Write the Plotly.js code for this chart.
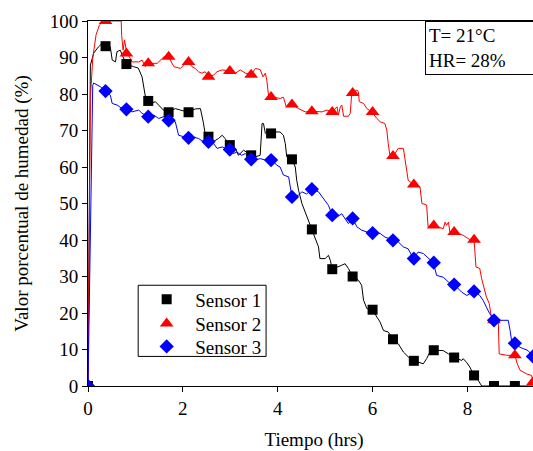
<!DOCTYPE html>
<html>
<head>
<meta charset="utf-8">
<script src="https://cdn.plot.ly/plotly-3.0.1.min.js"></script>
<style>
html, body { margin: 0; padding: 0; overflow: hidden; background: #fff; }
#chart { width: 540px; height: 451px; }
</style>
</head>
<body>
<div id="chart"></div>
<script>
// Sensor names
const sensorNames = ["Sensor 1", "Sensor 2", "Sensor 3"];

// Continuous readings (hours, %)
const s1LineX = [0, 0.05, 0.09, 0.12, 0.22, 0.30, 0.37, 0.47, 0.51, 0.58, 0.61, 0.68, 0.72, 0.81, 0.96, 1.06, 1.14, 1.21, 1.27, 1.35, 1.42, 1.48, 1.59, 1.70, 1.84, 1.95, 2.12, 2.26, 2.37, 2.43, 2.47, 2.54, 2.65, 2.75, 2.83, 2.89, 2.96, 3.11, 3.17, 3.28, 3.39, 3.44, 3.53, 3.63, 3.67, 3.70, 3.74, 3.77, 3.86, 3.95, 4.05, 4.12, 4.16, 4.19, 4.30, 4.37, 4.40, 4.44, 4.51, 4.58, 4.65, 4.72, 4.79, 4.86, 4.89, 5.00, 5.07, 5.11, 5.15, 5.28, 5.35, 5.42, 5.49, 5.58, 5.67, 5.70, 5.77, 5.81, 5.88, 6.00, 6.09, 6.16, 6.23, 6.33, 6.43, 6.54, 6.65, 6.79, 6.87, 7.07, 7.14, 7.21, 7.29, 7.49, 7.60, 7.72, 7.88, 7.91, 7.98, 8.05, 8.14, 8.23, 8.30, 9.53];
const s1LineY = [0, 87.9, 89.8, 91.2, 92.9, 93.9, 93.0, 92.9, 89.3, 88.8, 91.6, 92.0, 90.7, 88.2, 87.5, 87.1, 84.7, 79.3, 78.1, 77.5, 77.9, 77.1, 75.6, 75.0, 76.0, 75.6, 75.0, 75.9, 76.0, 72.3, 69.2, 68.3, 67.0, 67.8, 68.7, 67.8, 66.4, 65.1, 63.2, 64.6, 63.7, 63.2, 62.8, 63.2, 71.9, 71.9, 69.2, 69.6, 69.2, 69.6, 69.6, 68.7, 66.4, 62.8, 62.1, 60.0, 56.4, 53.6, 50.0, 47.7, 45.4, 42.9, 40.8, 38.1, 34.9, 34.9, 35.8, 34.4, 32.0, 32.6, 33.1, 33.5, 32.2, 30.0, 29.4, 29.0, 27.6, 23.5, 21.2, 20.9, 18.9, 17.5, 15.2, 14.8, 12.8, 11.6, 9.3, 7.5, 6.9, 6.1, 7.5, 9.3, 9.8, 9.7, 8.8, 7.8, 7.0, 7.5, 6.5, 5.2, 2.9, 1.5, 0, 0];

const s2LineX = [0, 0.05, 0.10, 0.17, 0.24, 0.31, 0.35, 0.70, 0.71, 0.72, 0.74, 0.77, 0.79, 0.82, 0.89, 0.93, 1.07, 1.14, 1.21, 1.27, 1.46, 1.53, 1.60, 1.70, 1.81, 1.95, 2.05, 2.12, 2.19, 2.26, 2.33, 2.40, 2.47, 2.54, 2.65, 2.72, 2.83, 2.99, 3.11, 3.21, 3.32, 3.44, 3.53, 3.63, 3.69, 3.74, 3.77, 3.81, 3.86, 4.05, 4.12, 4.18, 4.30, 4.44, 4.58, 4.72, 4.93, 5.04, 5.15, 5.25, 5.28, 5.32, 5.35, 5.39, 5.49, 5.53, 5.56, 5.67, 5.70, 5.72, 5.81, 5.88, 5.98, 6.09, 6.16, 6.26, 6.30, 6.33, 6.37, 6.44, 6.54, 6.65, 6.68, 6.75, 6.86, 7.00, 7.04, 7.14, 7.17, 7.28, 7.49, 7.53, 7.56, 7.60, 7.63, 7.72, 7.91, 8.05, 8.14, 8.18, 8.26, 8.30, 8.40, 8.46, 8.51, 8.58, 8.65, 8.67, 8.83, 9.00, 9.05, 9.11, 9.25, 9.35, 9.40, 9.53];
const s2LineY = [0, 78.8, 89.8, 96.2, 98.9, 99.8, 100, 100, 96.0, 93.9, 92.0, 94.8, 93.0, 91.1, 89.8, 88.8, 88.8, 89.3, 87.5, 88.4, 88.4, 89.3, 90.2, 90.2, 87.5, 87.0, 88.4, 88.8, 87.5, 87.0, 86.1, 85.7, 86.1, 84.7, 85.2, 86.1, 86.6, 86.3, 85.7, 86.6, 85.7, 85.3, 87.0, 86.7, 84.7, 85.7, 83.8, 79.2, 79.2, 78.8, 79.1, 76.5, 77.1, 76.0, 75.1, 75.3, 75.1, 75.6, 75.1, 76.5, 74.2, 76.5, 77.0, 73.9, 73.9, 74.7, 80.2, 81.1, 80.6, 77.9, 77.4, 76.0, 75.1, 73.3, 72.4, 71.9, 70.1, 66.4, 62.8, 63.0, 65.1, 65.1, 62.8, 56.4, 55.2, 54.5, 50.0, 49.6, 43.6, 44.0, 43.1, 44.9, 44.0, 44.9, 42.2, 42.2, 41.3, 40.1, 40.1, 32.6, 32.2, 29.4, 24.4, 22.6, 18.4, 18.0, 17.7, 8.8, 8.4, 8.4, 6.1, 4.3, 3.3, 2.9, 1.0, 0.5];

const s3LineX = [0, 0.10, 0.12, 0.26, 0.37, 0.47, 0.51, 0.61, 0.72, 0.82, 0.93, 1.07, 1.14, 1.27, 1.39, 1.49, 1.60, 1.70, 1.84, 1.91, 2.02, 2.12, 2.23, 2.33, 2.44, 2.56, 2.65, 2.72, 2.83, 2.96, 3.07, 3.14, 3.24, 3.32, 3.42, 3.53, 3.63, 3.74, 3.88, 3.98, 4.05, 4.12, 4.23, 4.30, 4.44, 4.51, 4.61, 4.72, 4.86, 4.96, 5.07, 5.15, 5.25, 5.35, 5.49, 5.58, 5.67, 5.77, 5.88, 6.00, 6.16, 6.26, 6.44, 6.54, 6.65, 6.75, 6.86, 6.96, 7.07, 7.18, 7.28, 7.35, 7.49, 7.60, 7.72, 7.88, 7.99, 8.05, 8.14, 8.26, 8.33, 8.40, 8.47, 8.58, 8.72, 8.79, 8.86, 8.90, 8.93, 9.00, 9.11, 9.28, 9.38, 9.53];
const s3LineY = [0, 82.4, 83.0, 82.0, 80.8, 79.7, 77.4, 77.0, 76.0, 75.8, 75.1, 75.6, 74.7, 73.8, 74.2, 73.3, 73.8, 72.8, 72.4, 68.7, 68.3, 68.0, 68.2, 67.8, 66.9, 66.9, 66.4, 65.1, 65.5, 64.8, 63.7, 64.1, 63.2, 63.7, 62.1, 61.9, 62.3, 61.9, 61.9, 60.5, 60.0, 57.8, 57.3, 51.8, 52.3, 53.2, 52.6, 53.9, 53.2, 51.4, 49.5, 46.8, 46.3, 47.2, 44.5, 45.9, 43.6, 42.7, 42.2, 41.9, 41.8, 40.8, 39.9, 39.5, 38.1, 37.6, 34.9, 36.7, 36.3, 34.9, 33.8, 30.3, 29.8, 28.5, 27.8, 25.7, 24.8, 25.3, 26.0, 24.8, 23.5, 21.6, 19.8, 18.0, 18.0, 18.2, 18.0, 15.2, 12.5, 11.7, 10.6, 9.7, 8.1, 7.5];

// Marked samples (hours, %)
const markTimes = [0, 0.37, 0.81, 1.27, 1.70, 2.12, 2.54, 2.99, 3.44, 3.86, 4.30, 4.72, 5.15, 5.58, 6.00, 6.43, 6.87, 7.29, 7.72, 8.14, 8.56, 9.00, 9.38];
const s1Marks = [0, 93.1, 88.2, 78.1, 75.0, 75.0, 68.3, 66.0, 63.2, 69.2, 62.1, 42.9, 32.0, 30.0, 20.9, 12.8, 6.9, 9.8, 7.8, 2.9, 0, 0];
const s2Marks = [0, 100, 91.1, 88.4, 90.2, 88.8, 84.7, 86.3, 85.3, 79.2, 77.1, 75.3, 75.1, 80.3, 75.1, 63.0, 55.2, 44.0, 42.2, 40.1, 18.0, 8.4, 1.0];
const s3Marks = [0, 80.8, 75.8, 73.8, 72.8, 68.0, 66.9, 64.8, 62.1, 61.9, 51.8, 53.9, 46.8, 45.9, 41.9, 39.9, 34.9, 33.8, 27.8, 25.9, 18.0, 11.7, 8.1];

const xTicks = [0, 2, 4, 6, 8];
const yTicks = [0, 10, 20, 30, 40, 50, 60, 70, 80, 90, 100];
const conditionsText = ["T= 21°C", "HR= 28%"];

const colors = ["#000000", "#ff0000", "#0000ff"];
const symbols = ["square", "triangle-up", "diamond"];
const sizes = [10, 12, 11];
const lines = [[s1LineX, s1LineY], [s2LineX, s2LineY], [s3LineX, s3LineY]];
const marks = [s1Marks, s2Marks, s3Marks];
const legendIds = ["legend", "legend2", "legend3"];
const legendRowY = [0.237, 0.171, 0.108];

const FONT = "'Liberation Serif', 'Times New Roman', serif";
const traces = [];
for (let i = 0; i < 3; i++) {
  traces.push({
    x: lines[i][0], y: lines[i][1], type: "scatter", mode: "lines",
    line: { color: colors[i], width: 1 }, showlegend: false, hoverinfo: "skip"
  });
}
for (let i = 0; i < 3; i++) {
  traces.push({
    x: markTimes.slice(0, marks[i].length), y: marks[i], type: "scatter", mode: "markers",
    name: sensorNames[i], legend: legendIds[i],
    marker: { color: colors[i], symbol: symbols[i], size: sizes[i], line: { width: 0 } },
    cliponaxis: true
  });
}

const layout = {
  width: 540, height: 451,
  margin: { l: 88, r: 0, t: 21, b: 65 },
  paper_bgcolor: "#fff", plot_bgcolor: "#fff",
  font: { family: FONT, size: 19, color: "#000" },
  showlegend: true,
  xaxis: {
    range: [0, 9.53], tickvals: xTicks, ticktext: xTicks.map(String),
    ticks: "outside", ticklen: 5, tickwidth: 1, tickcolor: "#000",
    showline: true, linecolor: "#000", linewidth: 1, mirror: true,
    showgrid: false, zeroline: false,
    tickfont: { family: FONT, size: 19 },
    title: { text: "Tiempo (hrs)", font: { family: FONT, size: 19 }, standoff: 18 }
  },
  yaxis: {
    range: [0, 100], tickvals: yTicks, ticktext: yTicks.map(String),
    ticks: "outside", ticklen: 5, tickwidth: 1, tickcolor: "#000",
    showline: true, linecolor: "#000", linewidth: 1, mirror: true,
    showgrid: false, zeroline: false,
    tickfont: { family: FONT, size: 19 },
    title: { text: "Valor porcentual de humedad (%)", font: { family: FONT, size: 19 }, standoff: 16 }
  },
  shapes: [{
    type: "rect", xref: "paper", yref: "paper",
    x0: 0.111, x1: 0.394, y0: 0.081, y1: 0.276,
    line: { color: "#000", width: 1 }, fillcolor: "#fff", layer: "above"
  }],
  annotations: [{
    xref: "paper", yref: "paper", x: 0.745, y: 1, xanchor: "left", yanchor: "top",
    text: conditionsText.join("<br>"), showarrow: false, align: "left",
    width: 160, bordercolor: "#000", borderwidth: 1, borderpad: 3, bgcolor: "#fff",
    font: { family: FONT, size: 19, color: "#000" }
  }]
};
for (let i = 0; i < 3; i++) {
  layout[legendIds[i]] = {
    x: 0.111, y: legendRowY[i], xanchor: "left", yanchor: "middle",
    bgcolor: "rgba(0,0,0,0)", borderwidth: 0, itemwidth: 47,
    font: { family: FONT, size: 19, color: "#000" }
  };
}

Plotly.newPlot("chart", traces, layout, { displayModeBar: false, staticPlot: true });
</script>
</body>
</html>
